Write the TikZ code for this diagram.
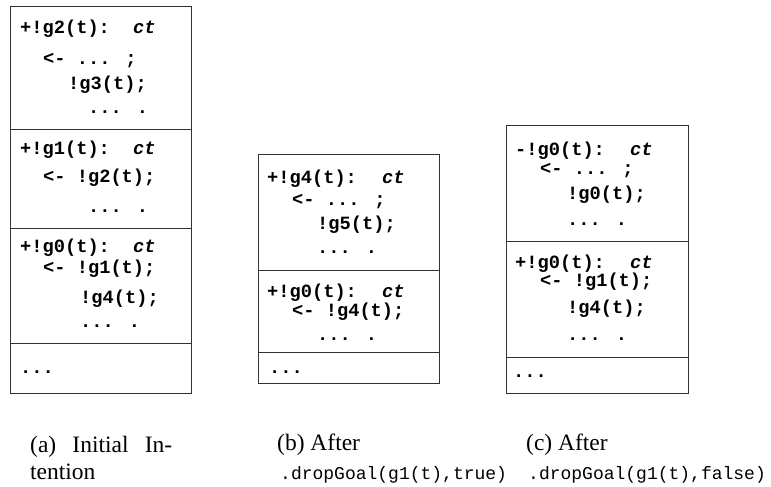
\documentclass[tikz,border=0pt]{standalone}
\usepackage{fontspec}
\setmainfont{Liberation Serif}
\newfontfamily\codefont{Liberation Mono}
\begin{document}
\begin{tikzpicture}[x=1pt,y=-1pt,
  sect/.style={draw=black!80,line width=1pt,anchor=north west,inner sep=0pt,minimum width=#1},
  code/.style={anchor=base west,inner sep=0pt,font=\codefont\bfseries\fontsize{18.7}{20}\selectfont},
  captext/.style={anchor=base west,inner sep=0pt,font=\fontsize{23.5}{26}\selectfont},
  capcode/.style={anchor=base west,inner sep=0pt,font=\codefont\fontsize{18}{20}\selectfont}]
\useasboundingbox (0,0) rectangle (771,487);
% box (a)
\node[sect=181pt,minimum height=123pt] (a1) at (10,6) {};
\node[sect=181pt,minimum height=99pt] (a2) at (10,129) {};
\node[sect=181pt,minimum height=115pt] (a3) at (10,228) {};
\node[sect=181pt,minimum height=50pt] (a4) at (10,343) {};
\node[code] (a1l1) at (20,33.5) {+!g2(t):};
\node[code] (a1ct) at (133,33.5) {\textit{ct}};
\node[code] (a1l2) at (43,65) {<- ... ;};
\node[code] (a1l3) at (68,89) {!g3(t);};
\node[code] (a1l4) at (88,113) {... .};
\node[code] (a2l1) at (20,154) {+!g1(t):};
\node[code] (a2ct) at (133,154) {\textit{ct}};
\node[code] (a2l2) at (43,182) {<- !g2(t);};
\node[code] (a2l3) at (88,212) {... .};
\node[code] (a3l1) at (20,252) {+!g0(t):};
\node[code] (a3ct) at (133,252) {\textit{ct}};
\node[code] (a3l2) at (43,273) {<- !g1(t);};
\node[code] (a3l3) at (80,303) {!g4(t);};
\node[code] (a3l4) at (80,327) {... .};
\node[code] (a4l1) at (20,373) {...};
% box (b)
\node[sect=181pt,minimum height=116pt] (b1) at (258,154) {};
\node[sect=181pt,minimum height=82pt] (b2) at (258,270) {};
\node[sect=181pt,minimum height=31pt] (b3) at (258,352) {};
\node[code] (b1l1) at (267,183) {+!g4(t):};
\node[code] (b1ct) at (382,183) {\textit{ct}};
\node[code] (b1l2) at (292,205) {<- ... ;};
\node[code] (b1l3) at (317,229) {!g5(t);};
\node[code] (b1l4) at (317,253) {... .};
\node[code] (b2l1) at (267,297) {+!g0(t):};
\node[code] (b2ct) at (382,297) {\textit{ct}};
\node[code] (b2l2) at (292,316) {<- !g4(t);};
\node[code] (b2l3) at (317,340) {... .};
\node[code] (b3l1) at (269,373) {...};
% box (c)
\node[sect=182pt,minimum height=116pt] (c1) at (506,125) {};
\node[sect=182pt,minimum height=116pt] (c2) at (506,241) {};
\node[sect=182pt,minimum height=36pt] (c3) at (506,357) {};
\node[code] (c1l1) at (515,155) {-!g0(t):};
\node[code] (c1ct) at (630,155) {\textit{ct}};
\node[code] (c1l2) at (540,174) {<- ... ;};
\node[code] (c1l3) at (567,199) {!g0(t);};
\node[code] (c1l4) at (567,225) {... .};
\node[code] (c2l1) at (515,268) {+!g0(t):};
\node[code] (c2ct) at (630,268) {\textit{ct}};
\node[code] (c2l2) at (540,286) {<- !g1(t);};
\node[code] (c2l3) at (567,313) {!g4(t);};
\node[code] (c2l4) at (567,340) {... .};
\node[code] (c3l1) at (513,377) {...};
% captions
\node[captext] (capa) at (30,452) {\makebox[142pt][s]{(a)\hfill Initial\hfill In-}};
\node[captext] (capa2) at (30,479) {tention};
\node[captext] (capb) at (277,450) {(b) After};
\node[capcode] (capb2) at (280,479) {.dropGoal(g1(t),true)};
\node[captext] (capc) at (526,450) {(c) After};
\node[capcode] (capc2) at (528,479) {.dropGoal(g1(t),false)};
\end{tikzpicture}
\end{document}
